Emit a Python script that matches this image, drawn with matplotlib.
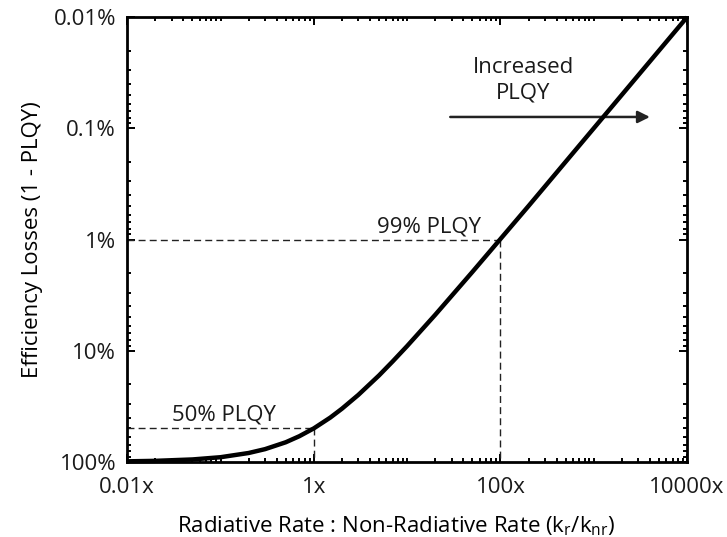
import matplotlib
matplotlib.use("Agg")
from matplotlib import pyplot as plt
from matplotlib.ticker import LogLocator, NullFormatter

plt.rcParams["font.family"] = ["Open Sans", "DejaVu Sans"]
plt.rcParams["text.color"] = "#1a1a1a"

# rate ratio kr/knr and the matching efficiency losses (1 - PLQY), in percent
rate_ratio = [0.01, 0.02, 0.05, 0.1, 0.2, 0.3, 0.5, 0.7, 1, 1.5, 2, 3, 5, 7,
              10, 20, 50, 100, 200, 500, 1000, 2000, 5000, 10000]
losses_pct = [99.0, 98.0, 95.2, 90.9, 83.3, 76.9, 66.7, 58.8, 50.0, 40.0, 33.3,
              25.0, 16.7, 12.5, 9.09, 4.76, 1.96, 0.99, 0.50, 0.20, 0.10, 0.05,
              0.02, 0.01]

x_ticks = [0.01, 1, 100, 10000]
x_tick_labels = ["0.01x", "1x", "100x", "10000x"]
y_ticks = [0.01, 0.1, 1, 10, 100]
y_tick_labels = ["0.01%", "0.1%", "1%", "10%", "100%"]

# reference points marked with dashed guides
marks_ratio = [1, 100]
marks_loss = [50.0, 1.0]
marks_text = ["50% PLQY", "99% PLQY"]
marks_text_x = [0.11, 17]

fig = plt.figure(figsize=(7.27, 5.37), dpi=100)
ax = fig.add_axes([0.175, 0.14, 0.77, 0.828])

ax.set_xscale("log")
ax.set_yscale("log")
ax.set_xlim(0.01, 10000)
ax.set_ylim(100, 0.01)

for xr, yl, txt, tx in zip(marks_ratio, marks_loss, marks_text, marks_text_x):
    ax.plot([0.01, xr], [yl, yl], color="#222222", lw=1.0, ls=(0, (5, 3)))
    ax.plot([xr, xr], [yl, 100], color="#222222", lw=1.0, ls=(0, (5, 3)))
    ax.text(tx, yl * 0.95, txt, ha="center", va="bottom", fontsize=16)

ax.plot(rate_ratio, losses_pct, color="black", lw=3.2, solid_capstyle="butt",
        clip_on=False, zorder=5)

ax.annotate("", xy=(4000, 0.079), xytext=(29, 0.079),
            arrowprops=dict(arrowstyle="-|>", color="#222222", lw=1.8,
                            mutation_scale=18, shrinkA=0, shrinkB=0))
ax.text(175, 0.037, "Increased\nPLQY", ha="center", va="center",
        fontsize=16, linespacing=1.3)

ax.set_xticks(x_ticks)
ax.set_xticklabels(x_tick_labels)
ax.set_yticks(y_ticks)
ax.set_yticklabels(y_tick_labels)
ax.xaxis.set_minor_locator(LogLocator(base=10, subs=range(1, 10), numticks=100))
ax.yaxis.set_minor_locator(LogLocator(base=10, subs=range(2, 10), numticks=100))
ax.xaxis.set_minor_formatter(NullFormatter())
ax.yaxis.set_minor_formatter(NullFormatter())

ax.tick_params(which="both", direction="in", top=True, right=True,
               width=1.4, labelsize=16, pad=8, labelcolor="#1a1a1a")
ax.tick_params(axis="x", which="major", pad=11)
ax.tick_params(which="major", length=6)
ax.tick_params(which="minor", length=3)
for s in ax.spines.values():
    s.set_linewidth(2.0)

ax.set_xlabel("Radiative Rate : Non-Radiative Rate (k$_\\mathregular{r}$/k$_\\mathregular{nr}$)",
              fontsize=16, labelpad=10)
ax.xaxis.set_label_coords(0.48, -0.118)
ax.set_ylabel("Efficiency Losses (1 - PLQY)", fontsize=16, labelpad=8)

fig.savefig("out.png", dpi=100)
